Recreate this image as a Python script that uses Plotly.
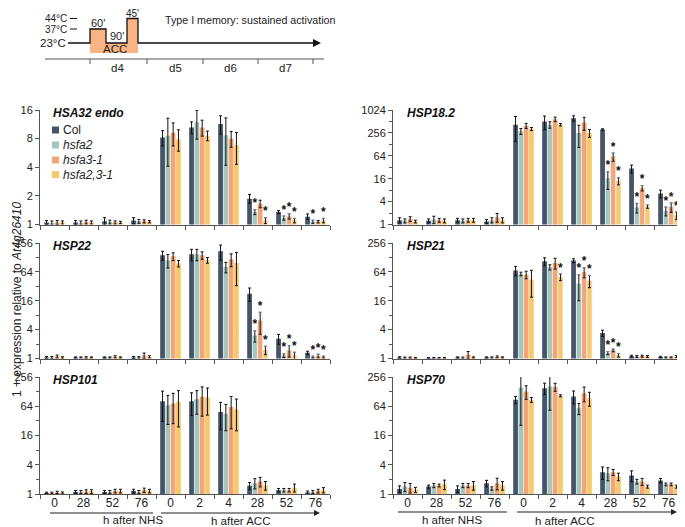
import math
import plotly.graph_objects as go

W, H = 685, 527
OFF = 8  # page body margin
FONT = "Arial, Liberation Sans, sans-serif"


def px(x):
    return (x - OFF) / W


def py(y):
    return 1 - (y - OFF) / H


# ---------------- data ----------------
groups = ["N0", "N28", "N52", "N76", "A0", "A2", "A4", "A28", "A52", "A76"]
tick_labels = ["0", "28", "52", "76", "0", "2", "4", "28", "52", "76"]
genotypes = ["Col", "hsfa2", "hsfa3-1", "hsfa2,3-1"]
legend_names = ["Col", "<i>hsfa2</i>", "<i>hsfa3-1</i>", "<i>hsfa2,3-1</i>"]
colors = ["#46546a", "#a3c7bf", "#f3a575", "#f7c96a"]

HSA32_mean = {
    "Col": [1.05, 1.05, 1.08, 1.1, 8.2, 10.5, 11.4, 1.87, 1.35, 1.21],
    "hsfa2": [1.04, 1.04, 1.06, 1.08, 8.6, 11.9, 8.7, 1.35, 1.17, 1.07],
    "hsfa3-1": [1.05, 1.06, 1.05, 1.08, 9.2, 10.5, 8.0, 1.65, 1.22, 1.07],
    "hsfa2,3-1": [1.05, 1.05, 1.05, 1.07, 7.9, 8.6, 6.8, 1.1, 1.1, 1.1],
}
HSA32_err = {
    "Col": [0.05, 0.05, 0.1, 0.08, 1.5, 1.5, 2.5, 0.2, 0.05, 0.08],
    "hsfa2": [0.05, 0.05, 0.05, 0.05, 4.5, 4.0, 4.5, 0.08, 0.06, 0.04],
    "hsfa3-1": [0.05, 0.05, 0.04, 0.04, 2.5, 2.0, 1.5, 0.15, 0.08, 0.03],
    "hsfa2,3-1": [0.04, 0.04, 0.03, 0.03, 2.0, 1.0, 2.5, 0.08, 0.06, 0.06],
}
HSA32_sig = {"Col": [], "hsfa2": [7, 8, 9], "hsfa3-1": [8], "hsfa2,3-1": [7, 8, 9]}

HSP18_mean = {
    "Col": [1.3, 1.25, 1.3, 1.2, 420, 510, 620, 313, 29.5, 6.5],
    "hsfa2": [1.25, 1.35, 1.25, 1.3, 283, 420, 256, 16.4, 2.8, 2.28],
    "hsfa3-1": [1.4, 1.3, 1.3, 1.55, 396, 584, 480, 61, 9.1, 2.89],
    "hsfa2,3-1": [1.2, 1.25, 1.3, 1.3, 324, 420, 256, 14, 2.97, 1.74],
}
HSP18_err = {
    "Col": [0.2, 0.15, 0.15, 0.15, 270, 200, 100, 15, 7, 1.5],
    "hsfa2": [0.15, 0.3, 0.15, 0.2, 50, 80, 150, 8, 0.8, 0.6],
    "hsfa3-1": [0.2, 0.15, 0.15, 0.4, 60, 80, 180, 15, 1.5, 0.8],
    "hsfa2,3-1": [0.1, 0.15, 0.15, 0.2, 30, 30, 60, 3, 0.3, 0.4],
}
HSP18_sig = {"Col": [], "hsfa2": [7, 8, 9], "hsfa3-1": [7, 8, 9], "hsfa2,3-1": [7, 8, 9]}

HSP22_mean = {
    "Col": [1.05, 1.05, 1.05, 1.05, 142, 149, 172, 22.5, 2.58, 1.32],
    "hsfa2": [1.05, 1.05, 1.05, 1.05, 112, 149, 81, 3.0, 1.15, 1.07],
    "hsfa3-1": [1.1, 1.05, 1.08, 1.15, 135, 142, 117, 6.2, 1.47, 1.13],
    "hsfa2,3-1": [1.05, 1.05, 1.05, 1.08, 96, 112, 98, 1.5, 1.15, 1.07],
}
HSP22_err = {
    "Col": [0.05, 0.03, 0.03, 0.05, 30, 40, 60, 7, 0.6, 0.1],
    "hsfa2": [0.05, 0.03, 0.03, 0.04, 35, 40, 20, 0.8, 0.1, 0.05],
    "hsfa3-1": [0.08, 0.04, 0.06, 0.15, 25, 25, 35, 3, 0.4, 0.1],
    "hsfa2,3-1": [0.04, 0.03, 0.03, 0.06, 15, 15, 65, 0.3, 0.2, 0.05],
}
HSP22_sig = {"Col": [], "hsfa2": [7, 8, 9], "hsfa3-1": [7, 8, 9], "hsfa2,3-1": [7, 8, 9]}

HSP21_mean = {
    "Col": [1.05, 1.03, 1.05, 1.05, 68, 106, 110, 3.4, 1.12, 1.07],
    "hsfa2": [1.04, 1.03, 1.04, 1.05, 58, 80, 36, 1.3, 1.1, 1.05],
    "hsfa3-1": [1.04, 1.03, 1.2, 1.08, 56, 98, 63, 1.48, 1.12, 1.05],
    "hsfa2,3-1": [1.03, 1.03, 1.05, 1.05, 44, 50, 42, 1.17, 1.1, 1.1],
}
HSP21_err = {
    "Col": [0.04, 0.02, 0.03, 0.03, 15, 20, 10, 0.5, 0.05, 0.04],
    "hsfa2": [0.03, 0.02, 0.03, 0.03, 5, 10, 20, 0.1, 0.05, 0.03],
    "hsfa3-1": [0.03, 0.02, 0.2, 0.05, 10, 25, 15, 0.1, 0.05, 0.03],
    "hsfa2,3-1": [0.02, 0.02, 0.03, 0.03, 25, 8, 12, 0.1, 0.05, 0.06],
}
HSP21_sig = {"Col": [], "hsfa2": [6, 7], "hsfa3-1": [6, 7], "hsfa2,3-1": [5, 6, 7]}

HSP101_mean = {
    "Col": [1.05, 1.1, 1.1, 1.15, 81, 81, 49, 1.47, 1.2, 1.07],
    "hsfa2": [1.05, 1.1, 1.1, 1.1, 67, 89, 45, 1.67, 1.2, 1.1],
    "hsfa3-1": [1.08, 1.12, 1.15, 1.2, 73, 100, 62, 1.8, 1.2, 1.15],
    "hsfa2,3-1": [1.05, 1.12, 1.15, 1.15, 79, 97, 55, 1.5, 1.35, 1.2],
}
HSP101_err = {
    "Col": [0.04, 0.08, 0.08, 0.1, 50, 40, 28, 0.25, 0.1, 0.08],
    "hsfa2": [0.04, 0.08, 0.08, 0.08, 40, 45, 25, 0.4, 0.1, 0.08],
    "hsfa3-1": [0.06, 0.1, 0.1, 0.12, 45, 60, 40, 0.4, 0.1, 0.1],
    "hsfa2,3-1": [0.05, 0.1, 0.1, 0.1, 55, 55, 35, 0.3, 0.25, 0.15],
}
HSP101_sig = {"Col": [], "hsfa2": [], "hsfa3-1": [], "hsfa2,3-1": []}

HSP70_mean = {
    "Col": [1.27, 1.42, 1.27, 1.66, 87, 151, 102, 2.8, 2.4, 1.89],
    "hsfa2": [1.42, 1.5, 1.5, 1.3, 156, 163, 58, 2.67, 1.8, 1.58],
    "hsfa3-1": [1.35, 1.5, 1.5, 1.66, 129, 160, 119, 2.8, 1.8, 1.58],
    "hsfa2,3-1": [1.22, 1.58, 1.5, 1.5, 87, 105, 94, 2.28, 1.42, 1.42],
}
HSP70_err = {
    "Col": [0.2, 0.1, 0.2, 0.25, 15, 40, 30, 0.8, 0.6, 0.2],
    "hsfa2": [0.3, 0.15, 0.15, 0.1, 130, 110, 15, 0.8, 0.2, 0.1],
    "hsfa3-1": [0.3, 0.1, 0.15, 0.45, 40, 30, 40, 0.4, 0.3, 0.1],
    "hsfa2,3-1": [0.15, 0.35, 0.3, 0.3, 10, 5, 30, 0.4, 0.1, 0.1],
}
HSP70_sig = {"Col": [], "hsfa2": [], "hsfa3-1": [], "hsfa2,3-1": []}

# panel: (title, means, errs, sig, top, ticks, minor ticks, column, row)
panels = [
    ("HSA32 endo", HSA32_mean, HSA32_err, HSA32_sig, 16, [1, 2, 4, 8, 16], [], 0, 0),
    ("HSP18.2", HSP18_mean, HSP18_err, HSP18_sig, 1024, [1, 4, 16, 64, 256, 1024], [2, 8, 32, 128, 512], 1, 0),
    ("HSP22", HSP22_mean, HSP22_err, HSP22_sig, 256, [1, 4, 16, 64, 256], [2, 8, 32, 128], 0, 1),
    ("HSP21", HSP21_mean, HSP21_err, HSP21_sig, 256, [1, 4, 16, 64, 256], [2, 8, 32, 128], 1, 1),
    ("HSP101", HSP101_mean, HSP101_err, HSP101_sig, 256, [1, 4, 16, 64, 256], [2, 8, 32, 128], 0, 2),
    ("HSP70", HSP70_mean, HSP70_err, HSP70_sig, 256, [1, 4, 16, 64, 256], [2, 8, 32, 128], 1, 2),
]

# ---------------- layout geometry (pixels) ----------------
col_px = [(40, 330), (393, 683)]
row_px = [(110, 224.5), (243, 358.5), (377, 494)]
title_x = [51, 405]

fig = go.Figure()
layout = dict(
    width=W, height=H, margin=dict(l=0, r=0, t=0, b=0, autoexpand=False),
    paper_bgcolor="white", plot_bgcolor="white",
    barmode="group", bargap=0.27, bargroupgap=0.1,
    font=dict(family=FONT, size=12, color="#222"),
    showlegend=False,
)
annotations = []
shapes = []

for i, (title, means, errs, sig, top, ticks, minors, c, r) in enumerate(panels):
    n = i + 1
    xa = "x" if n == 1 else f"x{n}"
    ya = "y" if n == 1 else f"y{n}"
    for g, gname in enumerate(genotypes):
        fig.add_trace(go.Bar(
            x=groups, y=means[gname], name=legend_names[g],
            marker=dict(color=colors[g], line=dict(width=0)),
            error_y=dict(type="data", array=errs[gname], color="#111",
                         thickness=1, width=1.5),
            xaxis=xa, yaxis=ya, legendgroup=gname, showlegend=False,
            offsetgroup=str(g),
        ))
    # significance stars
    for g, gname in enumerate(genotypes):
        idx = sig[gname]
        if not idx:
            continue
        fig.add_trace(go.Bar(
            x=[groups[k] for k in idx],
            y=[means[gname][k] + errs[gname][k] for k in idx],
            marker=dict(color="rgba(0,0,0,0)"),
            text=["<b>*</b>"] * len(idx), textposition="outside",
            textfont=dict(size=15, color="#111"), cliponaxis=False,
            xaxis=xa, yaxis=ya, showlegend=False, offsetgroup=str(g),
            hoverinfo="skip",
        ))
    x0, x1 = col_px[c]
    y0, y1 = row_px[r]
    xkey = "xaxis" if n == 1 else f"xaxis{n}"
    ykey = "yaxis" if n == 1 else f"yaxis{n}"
    layout[xkey] = dict(
        domain=[px(x0), px(x1)], anchor=ya, type="category",
        categoryorder="array", categoryarray=groups,
        tickvals=groups, ticktext=tick_labels, tickson="boundaries",
        showticklabels=(r == 2), ticks="outside", ticklen=4, tickcolor="#555",
        showline=True, linecolor="#555", linewidth=1, showgrid=False,
        tickfont=dict(size=12, color="#222"), range=[-0.5, 9.5],
        automargin=False, ticklabelstandoff=-2,
    )
    ydict = dict(
        domain=[py(y1), py(y0)], anchor=xa, type="log",
        range=[0, math.log10(top)], tickvals=ticks,
        ticktext=[str(t) for t in ticks], ticks="outside", ticklen=4,
        tickcolor="#555", showline=True, linecolor="#555", linewidth=1,
        showgrid=False, zeroline=False, tickfont=dict(size=11, color="#222"),
        automargin=False,
    )
    if minors:
        ydict["minor"] = dict(tickvals=minors, ticks="outside", ticklen=3,
                              tickcolor="#555", showgrid=False)
    layout[ykey] = ydict
    annotations.append(dict(
        x=px(title_x[c]), y=py(y0 + 3), xref="paper", yref="paper",
        text=f"<b><i>{title}</i></b>", showarrow=False,
        xanchor="left", yanchor="middle", font=dict(size=12, color="#111"),
    ))

# manual legend inside the first panel
legend_y = [130, 145, 160, 174.5]
for g in range(4):
    yy = legend_y[g]
    shapes.append(dict(type="rect", xref="paper", yref="paper",
                       x0=px(52), x1=px(59), y0=py(yy - 3.5), y1=py(yy + 3.5),
                       fillcolor=colors[g], line=dict(width=0)))
    annotations.append(dict(x=px(61), y=py(yy), xref="paper", yref="paper",
                            text=legend_names[g], showarrow=False,
                            xanchor="left", yanchor="middle",
                            font=dict(size=12, color="#222")))

# y-axis title
annotations.append(dict(
    x=px(8), y=py(300), xref="paper", yref="paper", textangle=-90,
    xanchor="left",
    text="1 + expression relative to <i>At4g26410</i>", showarrow=False,
    font=dict(size=12, color="#222"),
))

# bottom time annotations
line_col = "#222"
for (nhs0, nhs1, acc0, acc1, yl, cx_n, cx_a) in [
    (50, 153, 161, 320, 513, 101, 240),
    (398, 507, 517, 677, 512, 452, 596),
]:
    shapes.append(dict(type="line", xref="paper", yref="paper",
                       x0=px(nhs0), x1=px(nhs1), y0=py(yl), y1=py(yl),
                       line=dict(color=line_col, width=1.2)))
    shapes.append(dict(type="line", xref="paper", yref="paper",
                       x0=px(acc0), x1=px(acc1 - 4), y0=py(yl), y1=py(yl),
                       line=dict(color=line_col, width=1.2)))
    shapes.append(dict(type="path", xref="paper", yref="paper",
                       path=f"M {px(acc1-6)} {py(yl-3)} L {px(acc1)} {py(yl)} L {px(acc1-6)} {py(yl+3)} Z",
                       fillcolor=line_col, line=dict(width=0)))
    annotations.append(dict(x=px(cx_n), y=py(520), xref="paper", yref="paper",
                            text="h after NHS", showarrow=False, yanchor="middle",
                            font=dict(size=11.5, color="#222")))
    annotations.append(dict(x=px(cx_a), y=py(520.5), xref="paper", yref="paper",
                            text="h after ACC", showarrow=False, yanchor="middle",
                            font=dict(size=11.5, color="#222")))

# ---------------- top schematic ----------------
# temperature levels (page pixels)
T44, T37, T23, TB = 18.5, 29, 43, 53
orange = "#f8b483"
shapes.append(dict(type="path", xref="paper", yref="paper",
                   path=(f"M {px(90)} {py(TB)} L {px(90)} {py(T37)} L {px(106)} {py(T37)} "
                         f"L {px(106)} {py(T23)} L {px(127)} {py(T23)} L {px(127)} {py(T44)} "
                         f"L {px(138)} {py(T44)} L {px(138)} {py(TB)} Z"),
                   fillcolor=orange, line=dict(width=0), layer="below"))
shapes.append(dict(type="path", xref="paper", yref="paper",
                   path=(f"M {px(68)} {py(T23)} L {px(90)} {py(T23)} L {px(90)} {py(T37)} "
                         f"L {px(106)} {py(T37)} L {px(106)} {py(T23)} L {px(127)} {py(T23)} "
                         f"L {px(127)} {py(T44)} L {px(138)} {py(T44)} L {px(138)} {py(T23)} "
                         f"L {px(314)} {py(T23)}"),
                   line=dict(color="#111", width=1.3)))
shapes.append(dict(type="path", xref="paper", yref="paper",
                   path=f"M {px(313)} {py(T23-4)} L {px(321)} {py(T23)} L {px(313)} {py(T23+4)} Z",
                   fillcolor="#111", line=dict(width=0)))
for yy in (T44, T37):
    shapes.append(dict(type="line", xref="paper", yref="paper",
                       x0=px(70), x1=px(77), y0=py(yy), y1=py(yy),
                       line=dict(color="#111", width=1)))
shapes.append(dict(type="line", xref="paper", yref="paper",
                   x0=px(45), x1=px(324), y0=py(59), y1=py(59),
                   line=dict(color="#555", width=1.2)))
for tx in (90, 147, 203, 258, 313):
    shapes.append(dict(type="line", xref="paper", yref="paper",
                       x0=px(tx), x1=px(tx), y0=py(59), y1=py(64),
                       line=dict(color="#555", width=1)))

schem_text = [
    ("44°C", 69, T44, "right", 10),
    ("37°C", 69, T37 + 0.5, "right", 10),
    ("23°C", 68, T23, "right", 11.5),
    ("60'", 98, T37 - 6, "center", 11),
    ("45'", 132, T44 - 5.5, "center", 10),
    ("90'", 117, T23 - 7, "center", 11),
    ("ACC", 115, 48.5, "center", 11.5),
    ("Type I memory: sustained activation", 163, 20, "left", 10.7),
    ("d4", 117, 68, "center", 11.5),
    ("d5", 175, 68, "center", 11.5),
    ("d6", 230, 68, "center", 11.5),
    ("d7", 285, 68, "center", 11.5),
]
for (t, x, y, anc, sz) in schem_text:
    annotations.append(dict(x=px(x), y=py(y), xref="paper", yref="paper",
                            text=t, showarrow=False, xanchor=anc, yanchor="middle",
                            font=dict(size=sz, color="#222")))

layout["annotations"] = annotations
layout["shapes"] = shapes
fig.update_layout(**layout)
fig.write_html("out.html")
